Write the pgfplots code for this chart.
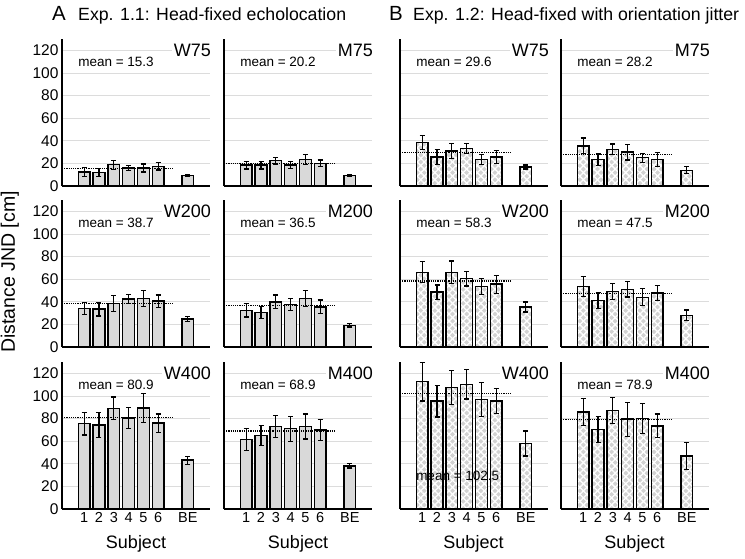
\documentclass[border=0pt]{standalone}
\usepackage{fontspec}
\setmainfont{Liberation Sans}
\usepackage{pgfplots}
\pgfplotsset{compat=1.18}
\usepackage{pgfplotstable}
\usetikzlibrary{patterns.meta}

\definecolor{barA}{HTML}{D9D9D9}
\definecolor{barB}{HTML}{D2D2D2}
\definecolor{gridc}{HTML}{DCDCDC}
\newcommand{\fs}[1]{\fontsize{#1}{#1}\selectfont}

% Panel A data
\pgfplotstableread{
x y e
1 12.4 4
2 11.8 3.5
3 18.9 4
4 15.9 2.5
5 15.9 3.5
6 17.4 3.3
8 9.4 0.7
}\tAWa
\pgfplotstableread{
x y e
1 18.5 3.5
2 18.5 3.5
3 22.5 3
4 18.5 3
5 23.5 4.5
6 20 3
8 9.4 0.7
}\tAMa
\pgfplotstableread{
x y e
1 34 5.5
2 33.5 6
3 38.5 7
4 42.5 4
5 43 7
6 40.5 5.5
8 24.8 2
}\tAWb
\pgfplotstableread{
x y e
1 32.5 6
2 30.5 5.5
3 40 6
4 37.5 5.5
5 43 7
6 35.5 6
8 19.2 1.5
}\tAMb
\pgfplotstableread{
x y e
1 75.5 10
2 74.5 11
3 89 10
4 80.5 9
5 89.5 13
6 76 8
8 43.2 3.5
}\tAWc
\pgfplotstableread{
x y e
1 61.5 10
2 65 9
3 73 9.5
4 71 11
5 73 11
6 70 9.5
8 38.2 2
}\tAMc
% Panel B data
\pgfplotstableread{
x y e
1 38.5 6.5
2 25.7 6.5
3 31 6.5
4 33 4.5
5 23.3 4.5
6 25.7 6
8 16.8 1.8
}\tBWa
\pgfplotstableread{
x y e
1 35.4 7
2 23.3 5
3 32.4 4.7
4 30 7
5 25 4
6 23.3 6
8 13.9 3
}\tBMa
\pgfplotstableread{
x y e
1 66 9.3
2 48.5 6.3
3 66 10
4 60.5 6.6
5 53.5 6.8
6 55.5 8
8 35.4 4.4
}\tBWb
\pgfplotstableread{
x y e
1 53.7 9
2 41 7
3 49 7
4 51 6.8
5 44 7.4
6 47.8 6.6
8 28 4.7
}\tBMb
\pgfplotstableread{
x y e
1 112.6 17
2 95.3 14
3 107.6 15
4 110.3 13
5 97 15
6 95.3 11
8 57.9 11
}\tBWc
\pgfplotstableread{
x y e
1 85.6 12
2 70.3 11.8
3 87 11.5
4 79.4 15
5 80 13.5
6 73.5 10.6
8 47 11.8
}\tBMc

\pgfplotsset{
 jnd/.style={scale only axis, width=148pt, height=147pt, anchor=south west,
  xmin=-0.5, xmax=9.5, ymin=0, ymax=130,
  axis x line*=bottom, axis y line*=left,
  axis line style={line width=1.5pt, black},
  xtick={1,2,3,4,5,6,8}, xticklabels={}, ytick={0,20,...,120}, yticklabels={},
  major tick length=0pt,
  ymajorgrids, grid style={gridc, line width=0.7pt},
  /pgf/number format/assume math mode=true,
  clip=false},
 ylab/.style={yticklabels={0,20,40,60,80,100,120}, yticklabel style={font=\fs{15.5}}},
 xlab/.style={xticklabels={1,2,3,4,5,6,BE}, xticklabel style={font=\fs{14.5}}},
 barsA/.style={ybar, bar width=0.8, bar shift=0pt, draw=black, line width=1.5pt, fill=barA},
 barsB/.style={ybar, bar width=0.8, bar shift=0pt, draw=black, line width=1.5pt,
   preaction={fill=barB},
   preaction={pattern color=white, pattern={Lines[angle=45,distance=5pt,line width=1.3pt]}},
   preaction={pattern color=white, pattern={Lines[angle=-45,distance=5pt,line width=1.3pt]}}},
 meanl/.style={black, densely dotted, line width=1.2pt, forget plot},
 errs/.style={forget plot, draw=none, mark=none,
   error bars/.cd, y dir=both, y explicit,
   error bar style={draw=black, solid, line width=1.2pt},
   error mark options={draw=black, solid, rotate=90, mark size=2.5pt, line width=1.2pt}},
}

% #1 x, #2 y, #3 opts, #4 bar style, #5 table, #6 mean, #7 label, #8 mean text pos
\newcommand{\panel}[8]{%
 \begin{axis}[jnd, at={(#1pt,#2pt)}, #3]
 \addplot[#4] table[x=x,y=y] {#5};
 \addplot[meanl] coordinates {(-0.5,#6) (7,#6)};
 \addplot[errs] table[x=x,y=y,y error=e] {#5};
 \node[anchor=north east, fill=white, inner sep=2pt, font=\fs{18}, xshift=3pt, yshift=-3pt] at (rel axis cs:1,1) {#7};
 \node[font=\fs{13.5}] at (axis cs:#8) {mean = #6};
 \end{axis}}

\begin{document}
\begin{tikzpicture}
\useasboundingbox (0pt,0pt) rectangle (745pt,-558pt);
\node[anchor=base west, font=\fs{20.5}, inner sep=0] at (52pt,-20pt) {A};
\node[anchor=base west, font=\fs{17.7}, inner sep=0] at (78pt,-20pt) {Exp. 1.1: Head-fixed echolocation};
\node[anchor=base west, font=\fs{20.5}, inner sep=0] at (389pt,-20pt) {B};
\node[anchor=base west, font=\fs{17.7}, inner sep=0] at (413pt,-20pt) {Exp. 1.2: Head-fixed with orientation jitter};

\panel{62}{-186}{ylab}{barsA}{\tAWa}{15.3}{W75}{3.15,109.4}
\panel{224}{-186}{}{barsA}{\tAMa}{20.2}{M75}{3.15,109.4}
\panel{400}{-186}{}{barsB}{\tBWa}{29.6}{W75}{3.15,109.4}
\panel{561}{-186}{}{barsB}{\tBMa}{28.2}{M75}{3.15,109.4}

\panel{62}{-347}{ylab}{barsA}{\tAWb}{38.7}{W200}{3.15,109.4}
\panel{224}{-347}{}{barsA}{\tAMb}{36.5}{M200}{3.15,109.4}
\panel{400}{-347}{}{barsB}{\tBWb}{58.3}{W200}{3.15,109.4}
\panel{561}{-347}{}{barsB}{\tBMb}{47.5}{M200}{3.15,109.4}

\panel{62}{-509}{ylab,xlab}{barsA}{\tAWc}{80.9}{W400}{3.15,109.4}
\panel{224}{-509}{xlab}{barsA}{\tAMc}{68.9}{M400}{3.15,109.4}
\panel{400}{-509}{xlab}{barsB}{\tBWc}{102.5}{W400}{3.4,29.1}
\panel{561}{-509}{xlab}{barsB}{\tBMc}{78.9}{M400}{3.15,109.4}

\node[rotate=90, anchor=base, font=\fs{19.5}] at (15pt,-272pt) {Distance JND [cm]};
\foreach \cx in {136,298,473.5,634.5}
  \node[font=\fs{18}] at (\cx pt,-544pt) {Subject};
\end{tikzpicture}
\end{document}
